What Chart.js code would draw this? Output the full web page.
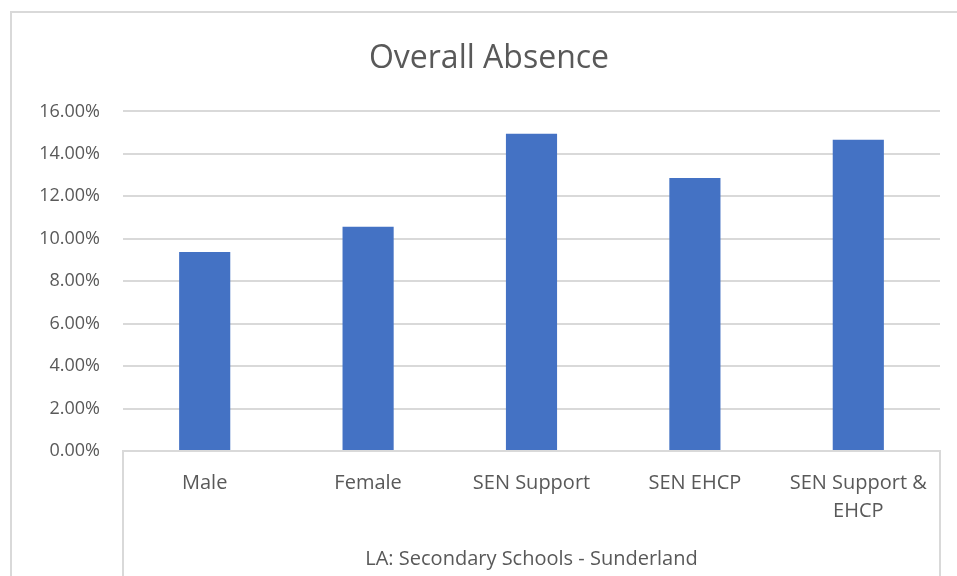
<!DOCTYPE html>
<html>
<head>
<meta charset="utf-8">
<title>Overall Absence</title>
<script src="https://cdn.jsdelivr.net/npm/chart.js@4"></script>
<style>
    html, body { margin: 0; padding: 0; background: #fff; overflow: hidden; }
    #chartBox {
        position: absolute;
        left: 10px;
        top: 11px;
        width: 958px;
        height: 565px;
        border-left: 2px solid #d9d9d9;
        border-top: 2px solid #d9d9d9;
    }
</style>
</head>
<body>
<div id="chartBox"><canvas id="absenceChart"></canvas></div>
<script>
// values (percent)
const categories = ['Male', 'Female', 'SEN Support', 'SEN EHCP', ['SEN Support &', 'EHCP']];
const absenceRates = [9.38, 10.57, 14.95, 12.86, 14.67];
const groupLabel = 'LA: Secondary Schools - Sunderland';
const chartTitle = 'Overall Absence';

const textColor = '#595959';
const lineColor = '#d9d9d9';

// outer borders of the category group below the axis (Excel multi-level look)
const groupBorders = {
    id: 'groupBorders',
    afterDraw(chart) {
        const area = chart.chartArea;
        const ctx = chart.ctx;
        ctx.save();
        ctx.strokeStyle = lineColor;
        ctx.lineWidth = 2;
        ctx.beginPath();
        ctx.moveTo(area.left, area.bottom);
        ctx.lineTo(area.left, chart.height);
        ctx.moveTo(area.right, area.bottom);
        ctx.lineTo(area.right, chart.height);
        ctx.stroke();
        ctx.restore();
    }
};

Chart.defaults.font.family = '"Open Sans", sans-serif';
Chart.defaults.color = textColor;

const ctx = document.getElementById('absenceChart').getContext('2d');
const absenceChart = new Chart(ctx, {
    type: 'bar',
    data: {
        labels: categories,
        datasets: [{
            label: chartTitle,
            data: absenceRates,
            backgroundColor: '#4472C4',
            borderWidth: 0,
            categoryPercentage: 1,
            barPercentage: 0.313
        }]
    },
    options: {
        responsive: true,
        maintainAspectRatio: false,
        animation: false,
        layout: {
            padding: { left: 26, right: 30, top: 0, bottom: 2 }
        },
        plugins: {
            legend: { display: false },
            tooltip: { enabled: false },
            title: {
                display: true,
                text: chartTitle,
                color: textColor,
                font: { size: 32, weight: 'normal' },
                padding: { top: 27, bottom: 33 }
            }
        },
        scales: {
            x: {
                grid: { display: false, drawTicks: false },
                border: { display: true, color: lineColor, width: 2 },
                ticks: {
                    color: textColor,
                    font: { size: 20, lineHeight: 1.4 },
                    padding: 18,
                    maxRotation: 0,
                    autoSkip: false
                },
                title: {
                    display: true,
                    text: groupLabel,
                    color: textColor,
                    font: { size: 20 },
                    padding: { top: 4, bottom: 5 }
                }
            },
            y: {
                min: 0,
                max: 16,
                afterFit: function(scale) {
                    scale.width = 85;
                },
                grid: { color: lineColor, lineWidth: 2, drawTicks: false },
                border: { display: false },
                ticks: {
                    stepSize: 2,
                    color: textColor,
                    font: { size: 18 },
                    padding: 23,
                    callback: function(value) {
                        return value.toFixed(2) + '%';
                    }
                }
            }
        }
    },
    plugins: [groupBorders]
});
</script>
</body>
</html>
